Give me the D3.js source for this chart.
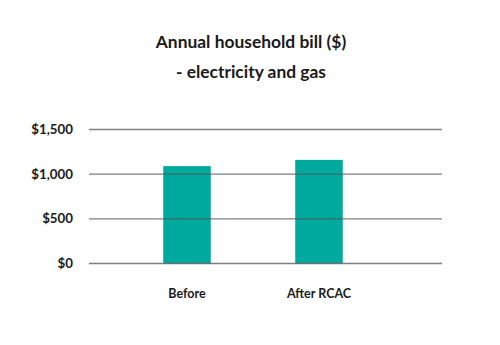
<!DOCTYPE html>
<html>
<head>
<meta charset="utf-8">
<script src="https://cdn.jsdelivr.net/npm/d3@7"></script>
<style>
  body { margin: 0; background: #fff; }
  text { font-family: Lato, 'Open Sans', sans-serif; font-weight: bold; fill: #1a1a1a; }
</style>
</head>
<body>
<div id="chart"></div>
<script>
var categories = ['Before', 'After RCAC'];
var bills = [1090, 1160];
var yTicks = [0, 500, 1000, 1500];

var svg = d3.select('#chart')
    .append('svg')
    .attr('width', 500)
    .attr('height', 345);

// title
svg.append('text')
    .attr('x', 251)
    .attr('y', 48)
    .attr('text-anchor', 'middle')
    .attr('font-size', 17.4)
    .text('Annual household bill ($)');
svg.append('text')
    .attr('x', 251)
    .attr('y', 78)
    .attr('text-anchor', 'middle')
    .attr('font-size', 17.4)
    .text('- electricity and gas');

var gridLeft = 89, gridRight = 442;

var yScale = d3.scaleLinear()
    .domain([0, 1500])
    .range([263.5, 129.5]);

var xScale = d3.scaleBand()
    .domain(categories)
    .range([121, 385])
    .paddingInner(0.64)
    .paddingOuter(0.32);

// bars
svg.selectAll('rect.bar')
    .data(bills)
    .enter().append('rect')
    .attr('class', 'bar')
    .attr('x', function(d, i) { return xScale(categories[i]); })
    .attr('y', function(d) { return yScale(d); })
    .attr('width', xScale.bandwidth())
    .attr('height', function(d) { return yScale(0) - yScale(d); })
    .attr('fill', '#00a99e');

// gridlines on top of bars
svg.selectAll('line.grid')
    .data(yTicks)
    .enter().append('line')
    .attr('class', 'grid')
    .attr('x1', gridLeft)
    .attr('x2', gridRight)
    .attr('y1', function(d) { return yScale(d); })
    .attr('y2', function(d) { return yScale(d); })
    .attr('stroke', '#555')
    .attr('stroke-opacity', 0.75)
    .attr('stroke-width', 1.3);

// y tick labels
var fmt = d3.format('$,');
svg.selectAll('text.ytick')
    .data(yTicks)
    .enter().append('text')
    .attr('class', 'ytick')
    .attr('x', 73)
    .attr('y', function(d) { return yScale(d); })
    .attr('dy', '0.35em')
    .attr('text-anchor', 'end')
    .attr('font-size', 13.3)
    .text(function(d) { return fmt(d); });

// x labels
svg.selectAll('text.xlab')
    .data(categories)
    .enter().append('text')
    .attr('class', 'xlab')
    .attr('x', function(d) { return xScale(d) + xScale.bandwidth() / 2; })
    .attr('y', 298)
    .attr('text-anchor', 'middle')
    .attr('font-size', 12.5)
    .text(function(d) { return d; });
</script>
</body>
</html>
